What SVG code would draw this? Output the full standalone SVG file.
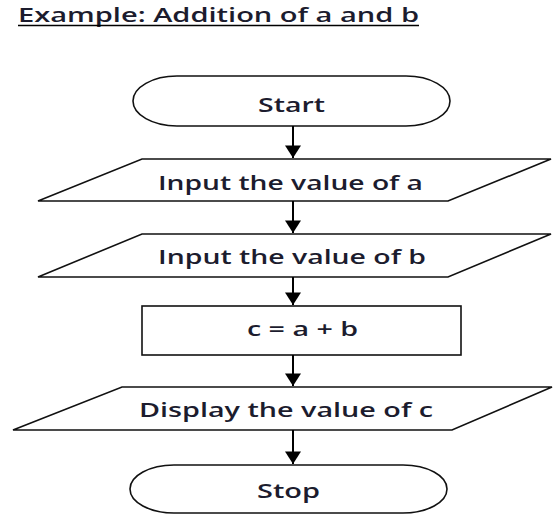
<svg xmlns="http://www.w3.org/2000/svg" width="553" height="515" viewBox="0 0 553 515">
<style>
.shape{fill:#fff;stroke:#111;stroke-width:1.6}
.lbl{font-family:"Open Sans","Liberation Sans",sans-serif;font-weight:600;font-size:19px;fill:#1c1c2e}
.conn{stroke:#000;stroke-width:2;fill:none}
</style>
<defs>
<marker id="ah" markerUnits="userSpaceOnUse" markerWidth="16" markerHeight="14" refX="7" refY="11" orient="0" viewBox="0 0 14 12">
<path d="M0,0 L14,0 L7,11 Z" fill="#000"/>
</marker>
</defs>
<rect width="553" height="515" fill="#fff"/>
<g id="title">
<text class="lbl" x="18" y="22" textLength="401" lengthAdjust="spacingAndGlyphs">Example: Addition of a and b</text>
<line x1="18" y1="25.5" x2="419" y2="25.5" stroke="#000" stroke-width="1.4"/>
</g>
<g id="start">
<rect class="shape" x="133" y="76" width="317" height="50" rx="44" ry="25"/>
<text class="lbl" x="258" y="112" textLength="67" lengthAdjust="spacingAndGlyphs">Start</text>
</g>
<g id="input-a">
<polygon class="shape" points="142,159 551,159 448,201 38,201"/>
<text class="lbl" x="158" y="190" textLength="265" lengthAdjust="spacingAndGlyphs">Input the value of a</text>
</g>
<g id="input-b">
<polygon class="shape" points="142,234 551,234 448,277 38,277"/>
<text class="lbl" x="158" y="264" textLength="268" lengthAdjust="spacingAndGlyphs">Input the value of b</text>
</g>
<g id="compute">
<rect class="shape" x="142" y="306" width="319" height="49"/>
<text class="lbl" x="247" y="336" textLength="111" lengthAdjust="spacingAndGlyphs">c = a + b</text>
</g>
<g id="display">
<polygon class="shape" points="122,387 552,387 452,430 13,430"/>
<text class="lbl" x="139" y="417" textLength="294" lengthAdjust="spacingAndGlyphs">Display the value of c</text>
</g>
<g id="stop">
<rect class="shape" x="130" y="465" width="317" height="48" rx="44" ry="24"/>
<text class="lbl" x="257" y="498" textLength="63" lengthAdjust="spacingAndGlyphs">Stop</text>
</g>
<g id="connectors">
<line class="conn" x1="293" y1="126" x2="293" y2="158" marker-end="url(#ah)"/>
<line class="conn" x1="293" y1="201" x2="293" y2="233" marker-end="url(#ah)"/>
<line class="conn" x1="293" y1="277" x2="293" y2="305" marker-end="url(#ah)"/>
<line class="conn" x1="293" y1="355" x2="293" y2="386" marker-end="url(#ah)"/>
<line class="conn" x1="293" y1="430" x2="293" y2="464" marker-end="url(#ah)"/>
</g>
</svg>
